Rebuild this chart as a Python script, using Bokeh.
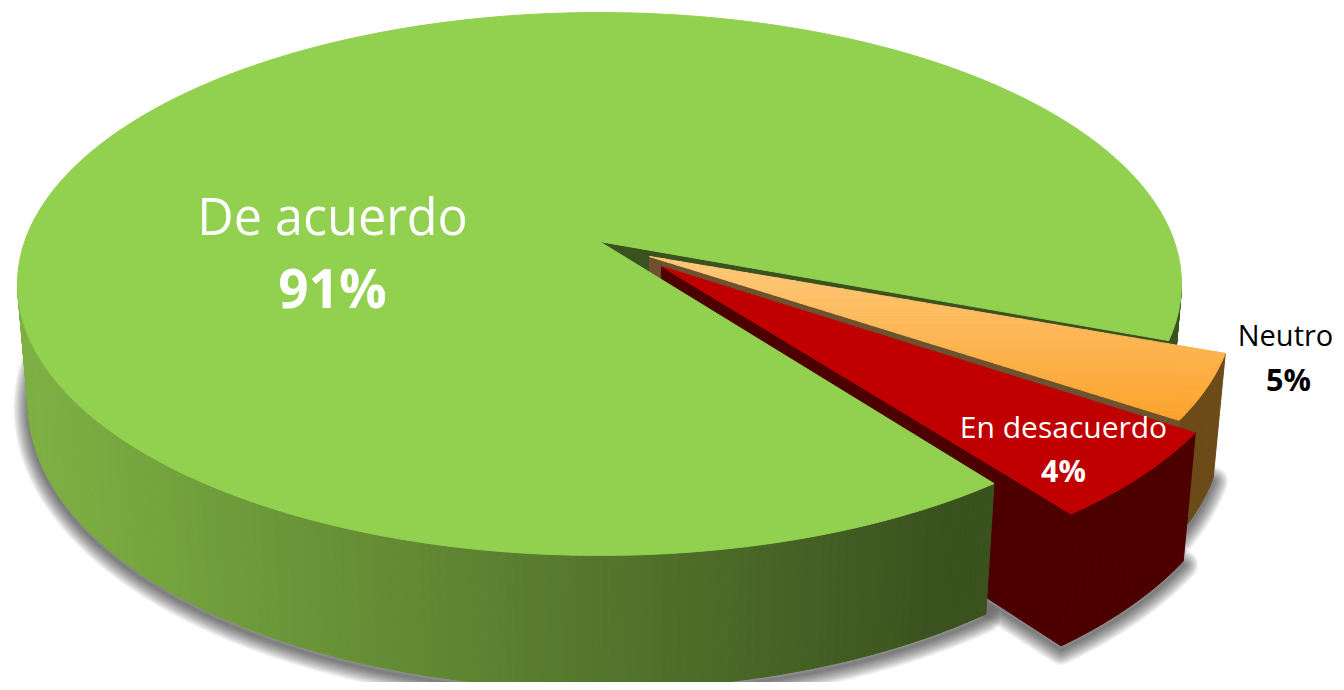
import math
from bokeh.plotting import figure
from bokeh.models import Range1d, ColumnDataSource
from bokeh.core.properties import value
from bokeh.embed import file_html
from bokeh.resources import INLINE

# ---- values
categories = ["De acuerdo", "Neutro", "En desacuerdo"]
percent_labels = ["91%", "5%", "4%"]
drawn_shares = [91.0, 3.86, 5.25]       # share of the circle each wedge really occupies
start_angles = [53.1, 20.0, 34.0]       # degrees, clockwise on screen
explode_u = [0.0, 0.0862, 0.1063]
explode_v = [0.0, 0.056, 0.093]
radius = [1.0, 0.995, 0.995]

# ---- perspective of the disc
X0, Y0 = 599.0, 241.0
A, B, K = 264.8, 574.8, 0.1565
C, M = 121.0, 0.0185


def project(u, v, h=0.0):
    s = 1 - K * v + M * h
    return X0 + B * u / s, Y0 + (A * v + C * h) / s


def arc(i, h=0.0, n=90, a0=None, a1=None):
    a0 = start_angles[i] if a0 is None else a0
    a1 = start_angles[i] + drawn_shares[i] * 3.6 if a1 is None else a1
    pts = []
    for k in range(n + 1):
        t = math.radians(a0 + (a1 - a0) * k / n)
        pts.append(project(explode_u[i] + radius[i] * math.cos(t),
                           explode_v[i] + radius[i] * math.sin(t), h))
    return pts


def apex(i, h=0.0):
    return project(explode_u[i], explode_v[i], h)


def wedge(i, h=0.0, n=180):
    return [apex(i, h)] + arc(i, h, n)


def lerp(c0, c1, t):
    t = max(0.0, min(1.0, t))
    return "#%02x%02x%02x" % tuple(round(a + (b - a) * t) for a, b in zip(c0, c1))


p = figure(width=1336, height=682, x_range=Range1d(0, 1336), y_range=Range1d(682, 0),
           output_backend="svg", toolbar_location=None,
           x_axis_location=None, y_axis_location=None, min_border=0,
           background_fill_color="white", border_fill_color="white", outline_line_color=None)
p.grid.visible = False


def draw(polys, colors):
    src = ColumnDataSource(dict(xs=[[q[0] for q in poly] for poly in polys],
                                ys=[[q[1] for q in poly] for poly in polys],
                                c=colors))
    p.patches("xs", "ys", source=src, fill_color="c", line_color="c", line_width=1)


# ---- soft shadow under the body
SHADOW_DY = 4
for w in range(2, 32, 2):
    shadow = [[(x, y + SHADOW_DY) for x, y in wedge(i, 1.0)] for i in range(3)]
    p.patches([[q[0] for q in s] for s in shadow], [[q[1] for q in s] for s in shadow],
              fill_color=None, line_color="black", line_alpha=0.045, line_width=w, line_join="round")


def wall_strips(i, a0, a1, n, color_fn):
    polys, cols = [], []
    top = arc(i, 0.0, n, a0, a1)
    bot = arc(i, 1.0, n, a0, a1)
    for k in range(n):
        polys.append([top[k], top[k + 1], bot[k + 1], bot[k]])
        cols.append(color_fn((top[k][0] + top[k + 1][0]) / 2))
    return polys, cols


GREEN_L, GREEN_R = (126, 176, 67), (58, 82, 30)
green_col = lambda x: lerp(GREEN_L, GREEN_R, (x - 30) / 920)
g0 = start_angles[0]
g1 = g0 + drawn_shares[0] * 3.6

# green: wall of the gap and right-hand outer wall
gp, gc = wall_strips(0, 369, g1, 12, green_col)
draw(gp, gc)
e = arc(0, 0.0, 1, g1, g1)[0]
ebot = arc(0, 1.0, 1, g1, g1)[0]
draw([[apex(0), e, ebot, apex(0, 1.0)]], ["#3a521e"])

# orange: walls, then top with a vertical gradient
oa1 = start_angles[1] + drawn_shares[1] * 3.6
t_in = apex(1)
oedge = arc(1, 0.0, 1, oa1, oa1)[0]
oedgeb = arc(1, 1.0, 1, oa1, oa1)[0]
op, oc = wall_strips(1, start_angles[1], oa1, 20, lambda x: "#6c4b19")
draw(op, oc)
draw([[t_in, oedge, oedgeb, apex(1, 1.0)]], ["#6e5230"])


def clip_band(poly, y0, y1):
    def clip(pts, inside, cross):
        out = []
        for a, b in zip(pts, pts[1:] + pts[:1]):
            ia, ib = inside(a), inside(b)
            if ia:
                out.append(a)
            if ia != ib:
                out.append(cross(a, b))
        return out

    def at(yv):
        def f(a, b):
            t = (yv - a[1]) / (b[1] - a[1])
            return (a[0] + (b[0] - a[0]) * t, yv)
        return f
    r = clip(poly, lambda q: q[1] >= y0, at(y0))
    if r:
        r = clip(r, lambda q: q[1] <= y1, at(y1))
    return r


otop = wedge(1, 0.0, 30)
ymin, ymax = min(q[1] for q in otop), max(q[1] for q in otop)
bands, bcols = [], []
NB = 60
for k in range(NB):
    ya = ymin + (ymax - ymin) * k / NB
    yb = ymin + (ymax - ymin) * (k + 1) / NB
    b = clip_band(otop, ya, yb)
    if b:
        bands.append(b)
        bcols.append(lerp((255, 202, 125), (252, 163, 44), (k + 0.5) / NB))
draw(bands, bcols)

# red: walls then top
ra0 = start_angles[2]
ra1 = ra0 + drawn_shares[2] * 3.6
rp, rc = wall_strips(2, ra0, ra1, 20, lambda x: "#4d0000")
draw(rp, rc)
draw([[apex(2), arc(2, 0.0, 1, ra1, ra1)[0], arc(2, 1.0, 1, ra1, ra1)[0], apex(2, 1.0)]], ["#4d0000"])
draw([wedge(2, 0.0, 30)], ["#c00000"])

# green: front wall and top
fp, fc = wall_strips(0, g0, 171, 160, green_col)
draw(fp, fc)
draw([wedge(0, 0.0, 360)], ["#92d050"])

# ---- labels
label_x = [332, 1285, 1063]
pct_x = [332, 1288, 1063]
name_y = [215, 334, 426]
pct_y = [287, 378, 469]
name_size = ["50.3px", "29px", "30px"]
pct_size = ["53px", "30.5px", "30.5px"]
name_col = ["white", "black", "white"]
FONT = value("Open Sans")
p.text(label_x, name_y, text=categories, text_color=name_col, text_font=FONT,
       text_font_size=name_size, text_align="center", text_baseline="middle")
p.text(pct_x, pct_y, text=percent_labels, text_color=name_col, text_font=FONT,
       text_font_size=pct_size, text_font_style="bold", text_align="center", text_baseline="middle")

open("out.html", "w").write(file_html(p, INLINE))
